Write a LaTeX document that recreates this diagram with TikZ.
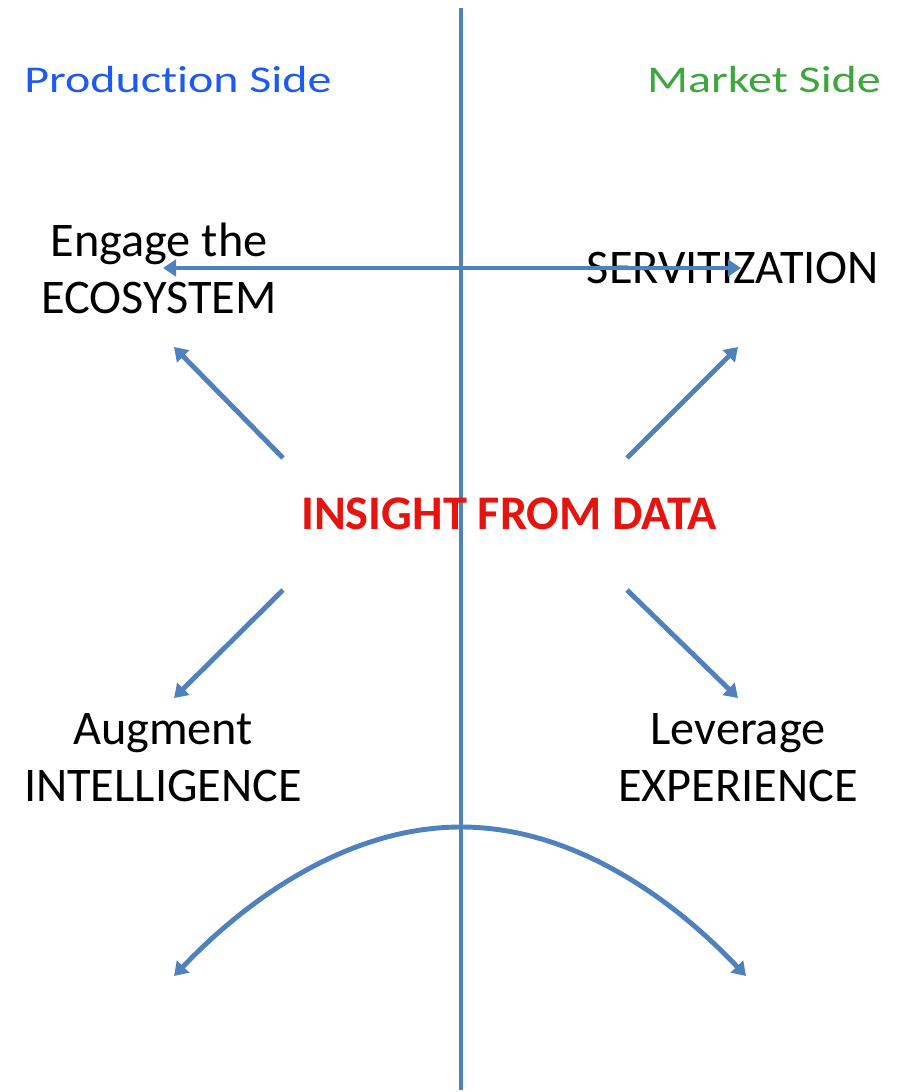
\documentclass[tikz,border=0pt]{standalone}
\usepackage{fontspec}
\setmainfont{Carlito}[Ligatures=NoCommon]
\usetikzlibrary{arrows.meta}

\definecolor{linkblue}{HTML}{4F81BD}
\definecolor{prodblue}{HTML}{1E5AF0}
\definecolor{marketgreen}{HTML}{3DA63D}
\definecolor{insightred}{HTML}{E6140F}

\tikzset{
	link/.style={draw=linkblue, line width=2.8pt, -{Triangle[length=7.5pt, width=9.5pt]}},
	label/.style={align=center, font=\fontsize{27.5}{32.5}\selectfont, inner sep=0pt},
	side/.style={font=\fontsize{21.5}{26}\selectfont, inner sep=0pt, xscale=1.27},
}

\begin{document}
\begin{tikzpicture}[x=0.02cm, y=-0.02cm]
	\useasboundingbox (0,0) rectangle (900,1092);

	\node[side, text=prodblue](prod) at (178,80) {Production Side};
	\node[side, text=marketgreen](market) at (764,80) {Market Side};

	\node[label](eco) at (159,268) {Engage the\\ECOSYSTEM};
	\node[label](serv) at (733,268) {SERVITIZATION};
	\node[label](intel) at (163,758) {Augment\\INTELLIGENCE};
	\node[label](exper) at (738,758) {Leverage\\EXPERIENCE};

	\coordinate (top) at (461,8);
	\coordinate (bottom) at (461,1090);
	\coordinate (cross) at (461,268);
	\coordinate (ecotip) at (163,268);
	\coordinate (servtip) at (741,268);

	\coordinate (ul) at (283,458);
	\coordinate (ur) at (627,458);
	\coordinate (ll) at (283,590);
	\coordinate (lr) at (627,590);
	\coordinate (ultip) at (174,347);
	\coordinate (urtip) at (738,347);
	\coordinate (lltip) at (174,698);
	\coordinate (lrtip) at (738,698);

	\coordinate (arcleft) at (174,976);
	\coordinate (arctop) at (461,827);
	\coordinate (arcright) at (746,976);

	\draw[link, -] (top) -- (bottom);
	\draw[link] (cross) -- (ecotip);
	\draw[link] (cross) -- (servtip);
	\draw[link] (ul) -- (ultip);
	\draw[link] (ur) -- (urtip);
	\draw[link] (ll) -- (lltip);
	\draw[link] (lr) -- (lrtip);
	\draw[link, {Triangle[length=7.5pt, width=9.5pt]}-{Triangle[length=7.5pt, width=9.5pt]}] (arcleft) parabola bend (arctop) (arcright);

	\node[font=\fontsize{27.5}{32}\selectfont\bfseries, text=insightred, inner sep=0pt](insight) at (509,514) {INSIGHT FROM DATA};
\end{tikzpicture}
\end{document}
